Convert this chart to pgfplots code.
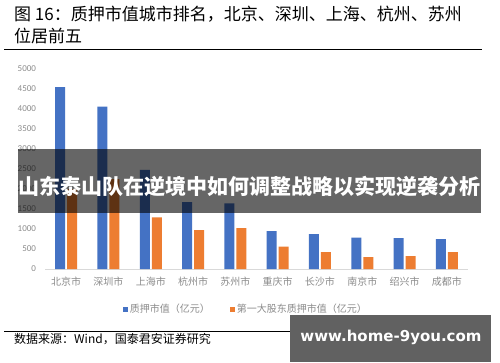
\documentclass[border=0pt]{standalone}
\usepackage{pgfplots}
\pgfplotsset{compat=1.18}
\usepackage{fontspec}
\setmainfont{Carlito}
\newfontfamily\cjk{Noto Sans CJK SC}
\newfontfamily\wm{DejaVu Sans}
\definecolor{cblue}{HTML}{4472C4}
\definecolor{corange}{HTML}{ED7D31}
\definecolor{tgray}{HTML}{8C8C8C}
\definecolor{lgray}{HTML}{D9D9D9}
\definecolor{wgray}{HTML}{616161}
\begin{document}
\begin{tikzpicture}[x=1pt,y=1pt]
\useasboundingbox (0,0) rectangle (500,362);
\fill[white] (0,0) rectangle (500,362);
\node[anchor=base west, inner sep=0, font=\cjk\fontsize{17}{17}\selectfont] at (14,341) {图 16：质押市值城市排名，北京、深圳、上海、杭州、苏州};
\node[anchor=base west, inner sep=0, font=\cjk\fontsize{17}{17}\selectfont] at (14,319) {位居前五};
\draw[black, line width=0.8] (4,313) -- (482,313);
\begin{axis}[
  at={(45pt,93pt)}, anchor=south west,
  scale only axis, width=423pt, height=200pt,
  xmin=-0.5, xmax=9.5, ymin=0, ymax=5000,
  ybar=2pt, bar width=10pt,
  axis x line*=bottom, axis y line*=left,
  x axis line style={lgray, line width=0.8pt},
  y axis line style={draw=none},
  major tick length=0pt,
  xtick={0,...,9},
  xticklabels={北京市,深圳市,上海市,杭州市,苏州市,重庆市,长沙市,南京市,绍兴市,成都市},
  xticklabel style={font=\cjk\fontsize{10}{10}\selectfont, text=tgray, yshift=-4pt},
  ytick={0,500,...,5000},
  yticklabel style={font=\fontsize{9}{9}\selectfont, text=tgray, xshift=-5.5pt},
  /pgf/number format/assume math mode=true,
  /pgf/number format/1000 sep={},
  legend style={draw=none, fill=none, at={(0.475,-0.2)}, anchor=center,
    font=\cjk\fontsize{10}{10}\selectfont, text=tgray,
    /tikz/every even column/.append style={column sep=18pt}},
  legend columns=2,
  legend image code/.code={\fill[#1] (0pt,-2.5pt) rectangle (5pt,2.5pt);},
]
\addplot[fill=cblue, draw=none] coordinates {(0,4550) (1,4060) (2,2480) (3,1670) (4,1640) (5,950) (6,875) (7,785) (8,770) (9,745)};
\addplot[fill=corange, draw=none] coordinates {(0,2000) (1,2250) (2,1290) (3,970) (4,1020) (5,560) (6,425) (7,295) (8,320) (9,425)};
\legend{质押市值（亿元）,第一大股东质押市值（亿元）}
\end{axis}
\draw[black, line width=0.8] (4,31) -- (482,31);
\node[anchor=base west, inner sep=0, font=\cjk\fontsize{12}{12}\selectfont] at (14,19) {数据来源：Wind，国泰君安证券研究};
% overlay banner
\fill[black, opacity=0.6] (18,149) rectangle (481,213);
\node[anchor=center, inner sep=0, text=white, font=\cjk\bfseries\fontsize{21}{21}\selectfont] at (249.5,176) {山东泰山队在逆境中如何调整战略以实现逆袭分析};
% watermark
\fill[wgray] (290,0) rectangle (491,47);
\node[anchor=center, inner sep=0, text=white, font=\wm\bfseries\fontsize{15}{15}\selectfont] at (391,25) {www.home-9you.com};
\end{tikzpicture}
\end{document}
